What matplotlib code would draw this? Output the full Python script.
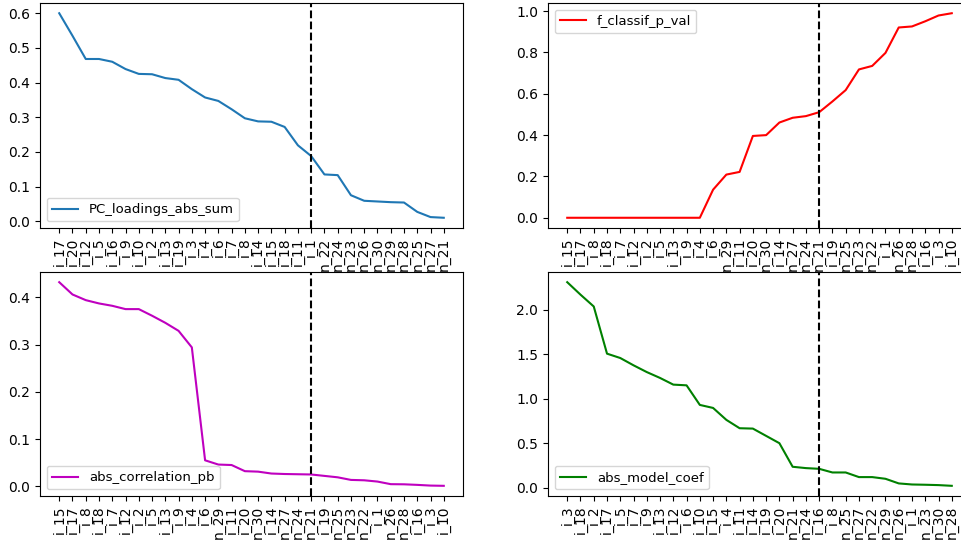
import matplotlib
matplotlib.use("Agg")
import matplotlib.pyplot as plt

plt.rcParams['font.size'] = 9.5
plt.rcParams['xtick.labelsize'] = 10
plt.rcParams['ytick.labelsize'] = 10

labels_pc = ["i_17", "i_20", "i_12", "i_5", "i_16", "i_9", "i_10", "i_2", "i_13", "i_19",
             "i_3", "i_4", "i_6", "i_7", "i_8", "i_14", "i_15", "i_18", "i_11", "i_1",
             "n_22", "n_24", "n_23", "n_26", "n_30", "n_29", "n_28", "n_25", "n_27", "n_21"]
pc_loadings_abs_sum = [0.600, 0.535, 0.468, 0.468, 0.460, 0.439, 0.425, 0.424, 0.413, 0.408,
                       0.381, 0.357, 0.347, 0.323, 0.297, 0.288, 0.287, 0.272, 0.219, 0.188,
                       0.135, 0.133, 0.075, 0.059, 0.057, 0.055, 0.054, 0.027, 0.012, 0.010]

labels_f = ["i_15", "i_17", "i_8", "i_18", "i_7", "i_12", "i_2", "i_5", "i_13", "i_9",
            "i_4", "i_6", "n_29", "i_11", "i_20", "n_30", "i_14", "n_27", "n_24", "n_21",
            "i_19", "n_25", "n_23", "n_22", "i_1", "n_26", "n_28", "i_16", "i_3", "i_10"]
f_classif_p_val = [0.0, 0.0, 0.0, 0.0, 0.0, 0.0, 0.0, 0.0, 0.0, 0.0,
                   0.0, 0.136, 0.209, 0.222, 0.396, 0.400, 0.461, 0.484, 0.492, 0.511,
                   0.563, 0.618, 0.718, 0.735, 0.798, 0.921, 0.926, 0.951, 0.979, 0.990]

labels_corr = list(labels_f)
abs_correlation_pb = [0.432, 0.406, 0.394, 0.387, 0.382, 0.375, 0.375, 0.361, 0.346, 0.329,
                      0.294, 0.055, 0.046, 0.045, 0.032, 0.031, 0.027, 0.026, 0.0255, 0.025,
                      0.022, 0.019, 0.0135, 0.0127, 0.010, 0.0045, 0.0042, 0.003, 0.0015, 0.001]

labels_coef = ["i_3", "i_18", "i_2", "i_17", "i_5", "i_7", "i_9", "i_13", "i_12", "i_6",
               "i_10", "i_15", "i_4", "i_11", "i_14", "i_19", "i_20", "n_21", "n_24", "i_16",
               "i_8", "n_25", "n_27", "n_22", "n_29", "n_26", "i_1", "n_23", "n_30", "n_28"]
abs_model_coef = [2.31, 2.17, 2.037, 1.507, 1.458, 1.376, 1.30, 1.234, 1.159, 1.151,
                  0.931, 0.897, 0.763, 0.669, 0.665, 0.583, 0.501, 0.236, 0.221, 0.213,
                  0.172, 0.172, 0.120, 0.120, 0.101, 0.049, 0.037, 0.034, 0.030, 0.022]

cutoff_index = 19

W, H = 961, 541
fig = plt.figure(figsize=(W / 100, H / 100), dpi=100)

def ax_at(l, t, r, b):
    return fig.add_axes([l / W, 1 - b / H, (r - l) / W, (b - t) / H])

panels = [
    (ax_at(40, 3, 463, 228), labels_pc, pc_loadings_abs_sum, "PC_loadings_abs_sum", "C0", "lower left"),
    (ax_at(548, 3, 971, 228), labels_f, f_classif_p_val, "f_classif_p_val", "r", "upper left"),
    (ax_at(40, 272, 463, 496), labels_corr, abs_correlation_pb, "abs_correlation_pb", "m", "lower left"),
    (ax_at(548, 272, 971, 496), labels_coef, abs_model_coef, "abs_model_coef", "g", "lower left"),
]

for ax, labs, vals, name, col, loc in panels:
    ax.plot(labs, vals, color=col, label=name)
    ax.axvline(cutoff_index, color="k", linestyle="--")
    ax.legend(loc=loc)
    ax.tick_params(axis="x", labelrotation=90)

fig.savefig("out.png", dpi=100)
